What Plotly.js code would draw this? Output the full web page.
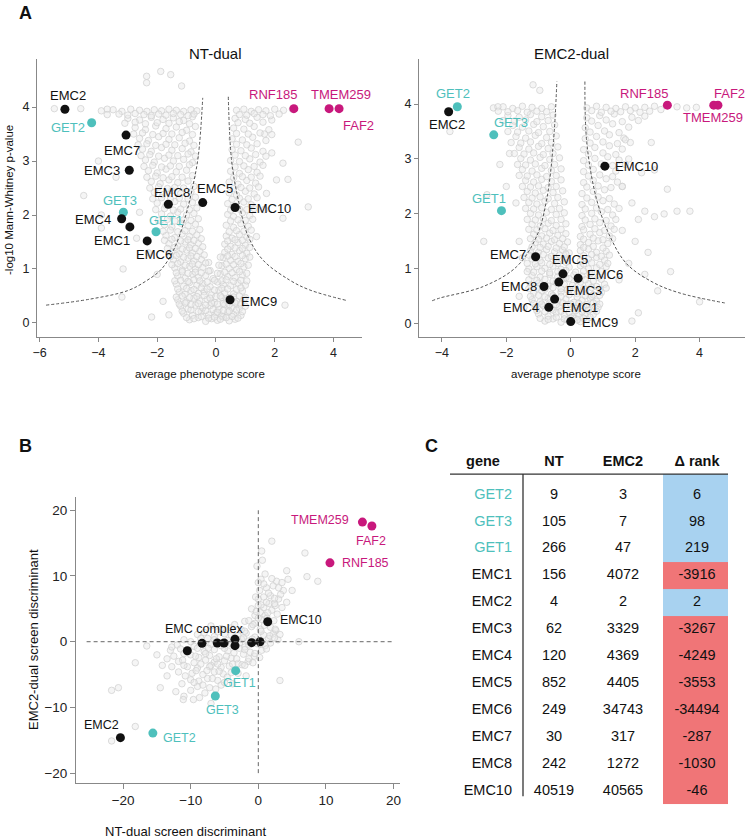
<!DOCTYPE html>
<html><head><meta charset="utf-8">
<script src="https://cdn.plot.ly/plotly-3.0.1.min.js"></script>
<style>html,body{margin:0;padding:0;background:#fff}#chart{width:746px;height:839px}</style>
</head><body><div id="chart"></div>
<script>
// ---------- Panel A : NT-dual volcano ----------
const ntGenes = ['EMC2','GET2','EMC7','EMC3','RNF185','TMEM259','FAF2','EMC8','EMC5','EMC10','GET3','EMC4','EMC1','GET1','EMC6','EMC9'];
const ntX = [-5.14,-4.23,-3.06,-2.95,2.65,3.85,4.19,-1.62,-0.45,0.65,-3.15,-3.21,-2.93,-2.04,-2.34,0.48];
const ntY = [3.96,3.71,3.48,2.83,3.97,3.97,3.97,2.20,2.23,2.14,2.05,1.93,1.78,1.69,1.52,0.43];
const ntBgX = [-0.9,-0.6,-0.35,-0.15,0.05,0.25,0.45,0.65,
 -1.1,-0.8,-0.5,-0.25,0.0,0.2,0.4,0.6,0.85,
 -1.2,-0.95,-0.7,-0.45,-0.2,0.1,0.3,0.55,0.8,1.0,
 -1.3,-1.0,-0.75,-0.55,-0.3,-0.05,0.2,0.35,0.7,0.95,
 -1.25,-1.05,-0.85,-0.6,-0.4,-0.15,0.1,0.3,0.6,0.9,
 -1.35,-1.1,-0.9,-0.65,-0.45,-0.2,0.05,0.25,0.5,0.75,1.0,
 -1.3,-1.05,-0.8,-0.6,-0.35,-0.1,0.15,0.4,0.65,0.9,
 -1.4,-1.15,-0.9,-0.7,-0.45,-0.2,0.2,0.45,0.7,0.95,
 -1.45,-1.2,-0.95,-0.75,-0.5,-0.25,0.25,0.5,0.75,1.0,
 -1.5,-1.25,-1.0,-0.8,-0.55,0.3,0.55,0.8,1.05,
 -1.6,-1.3,-1.05,-0.85,-0.6,0.3,0.5,0.75,1.0,
 -1.7,-1.4,-1.15,-0.9,-0.65,0.35,0.55,0.8,1.05,
 -1.75,-1.5,-1.2,-0.95,-0.7,0.35,0.6,0.85,1.1,
 -1.85,-1.55,-1.3,-1.0,-0.75,0.4,0.6,0.9,1.15,
 -2.0,-1.7,-1.4,-1.1,-0.8,0.4,0.65,0.95,1.2,
 -2.1,-1.8,-1.5,-1.2,-0.85,0.45,0.7,1.0,1.3,
 -2.2,-1.9,-1.6,-1.3,-0.95,0.45,0.75,1.05,1.35,
 -2.3,-2.0,-1.7,-1.35,-1.0,0.5,0.8,1.1,1.4,
 -2.4,-2.1,-1.75,-1.45,-1.1,-0.8,0.5,0.8,1.15,1.5,
 -2.5,-2.2,-1.85,-1.5,-1.15,-0.85,0.55,0.85,1.2,1.6,
 -2.6,-2.3,-1.95,-1.6,-1.25,-0.9,0.55,0.9,1.25,1.7,
 -2.75,-2.4,-2.05,-1.7,-1.35,-1.0,-0.7,0.6,0.95,1.3,1.8,
 -3.0,-2.6,-2.2,-1.8,-1.45,-1.1,-0.8,0.65,1.0,1.4,1.9,
 -3.9,-3.5,-3.2,-2.9,-2.6,-2.35,-2.1,-1.85,-1.6,-1.35,-1.1,-0.85,-0.65,0.7,0.95,1.2,1.45,1.7,2.0,2.3,
 -5.5,-4.6,-3.7,2.6,
 -2.36,-1.88,-1.54,-2.36,-1.17,
 -4.5,-3.9,-3.16,-3.2,-2.19,-2.7,-3.9,-2.6,-2.3,-2.0,-1.8,-1.6,2.28,2.45,3.14,2.28,2.35,1.72,1.65,1.38,2.06,2.8,1.9,1.65,-4.0,-3.4];
const ntBgY = [0.06,0.10,0.03,0.08,0.05,0.11,0.04,0.07,
 0.18,0.14,0.21,0.15,0.19,0.13,0.2,0.16,0.14,
 0.31,0.26,0.33,0.28,0.32,0.25,0.34,0.29,0.27,0.31,
 0.43,0.39,0.46,0.41,0.44,0.38,0.47,0.42,0.4,0.45,
 0.57,0.53,0.6,0.55,0.58,0.52,0.61,0.56,0.54,0.59,
 0.72,0.68,0.75,0.7,0.73,0.67,0.76,0.71,0.69,0.74,0.7,
 0.87,0.83,0.9,0.85,0.88,0.82,0.91,0.86,0.84,0.89,
 1.02,0.98,1.05,1.0,1.03,0.97,1.06,1.01,0.99,1.04,
 1.17,1.13,1.2,1.15,1.18,1.12,1.21,1.16,1.14,1.19,
 1.32,1.28,1.35,1.3,1.33,1.31,1.27,1.34,1.29,
 1.47,1.43,1.5,1.45,1.48,1.46,1.42,1.49,1.44,
 1.62,1.58,1.65,1.6,1.63,1.61,1.57,1.64,1.59,
 1.82,1.78,1.85,1.8,1.83,1.81,1.77,1.84,1.79,
 2.02,1.98,2.05,2.0,2.03,2.01,1.97,2.04,1.99,
 2.22,2.18,2.25,2.2,2.23,2.21,2.17,2.24,2.19,
 2.42,2.38,2.45,2.4,2.43,2.41,2.37,2.44,2.39,
 2.62,2.58,2.65,2.6,2.63,2.61,2.57,2.64,2.59,
 2.82,2.78,2.85,2.8,2.83,2.81,2.77,2.84,2.79,
 3.02,2.98,3.05,3.0,3.03,2.97,3.01,2.99,3.04,2.98,
 3.22,3.18,3.25,3.2,3.23,3.17,3.21,3.19,3.24,3.18,
 3.42,3.38,3.45,3.4,3.43,3.37,3.41,3.39,3.44,3.38,
 3.62,3.58,3.65,3.6,3.63,3.57,3.64,3.61,3.59,3.64,3.58,
 3.79,3.76,3.81,3.77,3.8,3.75,3.82,3.79,3.77,3.81,3.76,
 3.93,3.95,3.92,3.96,3.94,3.92,3.95,3.93,3.96,3.94,3.92,3.95,3.93,3.94,3.96,3.92,3.95,3.93,3.96,3.94,
 3.97,3.97,3.96,3.96,
 4.57,4.66,4.6,4.45,4.39,
 2.36,2.0,1.0,0.48,0.11,1.57,1.76,2.05,1.3,0.9,0.4,0.15,2.96,2.66,2.15,1.94,0.33,2.4,2.1,1.6,2.65,3.35,3.15,3.5,3.0,2.7];
// additional background genes (x, y) read from the denser parts of the cloud
const ntBgMore = [
 [-1.0,0.10],[-0.75,0.08],[-0.5,0.12],[-0.25,0.09],[-0.05,0.11],[0.15,0.07],[0.35,0.10],[0.55,0.12],[0.75,0.09],
 [-1.15,0.22],[-0.85,0.24],[-0.6,0.21],[-0.35,0.23],[-0.1,0.25],[0.05,0.20],[0.25,0.23],[0.45,0.22],[0.7,0.24],[0.9,0.21],
 [-1.25,0.35],[-1.05,0.37],[-0.85,0.34],[-0.6,0.36],[-0.35,0.33],[-0.15,0.37],[0.05,0.35],[0.25,0.36],[0.45,0.34],[0.65,0.37],[0.85,0.35],
 [-1.35,0.48],[-1.15,0.50],[-0.9,0.47],[-0.65,0.49],[-0.4,0.51],[-0.2,0.46],[0.0,0.49],[0.15,0.50],[0.45,0.47],[0.6,0.48],[0.8,0.50],[1.0,0.47],
 [-1.3,0.63],[-1.0,0.64],[-0.75,0.62],[-0.5,0.65],[-0.3,0.63],[-0.05,0.61],[0.2,0.64],[0.4,0.63],[0.7,0.62],[0.85,0.65],
 [-1.4,0.78],[-1.2,0.79],[-0.95,0.77],[-0.75,0.80],[-0.55,0.78],[-0.3,0.76],[-0.05,0.79],[0.2,0.78],[0.35,0.80],[0.6,0.77],[0.85,0.79],[1.05,0.78],
 [-1.35,0.93],[-1.15,0.95],[-0.95,0.92],[-0.7,0.94],[-0.5,0.93],[-0.25,0.96],[0.05,0.92],[0.3,0.94],[0.55,0.93],[0.8,0.95],[1.05,0.92],
 [-1.5,1.08],[-1.3,1.10],[-1.05,1.07],[-0.8,1.09],[-0.6,1.08],[-0.35,1.11],[0.1,1.07],[0.35,1.09],[0.6,1.08],[0.85,1.10],[1.1,1.07],
 [-1.55,1.23],[-1.35,1.25],[-1.1,1.22],[-0.85,1.24],[-0.65,1.23],[-0.4,1.26],[0.15,1.22],[0.4,1.24],[0.65,1.23],[0.9,1.25],[1.15,1.22],
 [-1.65,1.38],[-1.4,1.40],[-1.15,1.37],[-0.9,1.39],[-0.7,1.38],[-0.45,1.41],[0.4,1.37],[0.65,1.39],[0.9,1.38],[1.15,1.40],
 [-1.75,1.53],[-1.5,1.55],[-1.2,1.52],[-0.95,1.54],[-0.75,1.53],[-0.5,1.56],[0.4,1.52],[0.65,1.54],[0.9,1.53],[1.15,1.55],
 [-1.8,1.70],[-1.55,1.72],[-1.3,1.69],[-1.05,1.71],[-0.8,1.70],[-0.55,1.73],[0.45,1.69],[0.7,1.71],[0.95,1.70],[1.2,1.72],
 [-1.95,1.90],[-1.65,1.92],[-1.4,1.89],[-1.1,1.91],[-0.85,1.90],[-0.6,1.93],[0.5,1.89],[0.75,1.91],[1.0,1.90],[1.25,1.92],
 [-2.05,2.10],[-1.75,2.12],[-1.45,2.09],[-1.2,2.11],[-0.9,2.10],[-0.65,2.13],[0.5,2.09],[0.8,2.11],[1.05,2.10],[1.3,2.12],
 [-2.15,2.30],[-1.85,2.32],[-1.55,2.29],[-1.25,2.31],[-0.95,2.30],[-0.7,2.33],[0.55,2.29],[0.8,2.31],[1.1,2.30],[1.4,2.32],
 [-2.25,2.50],[-1.95,2.52],[-1.65,2.49],[-1.4,2.51],[-1.1,2.50],[-0.75,2.53],[0.6,2.49],[0.85,2.51],[1.15,2.50],[1.45,2.52],
 [-2.35,2.70],[-2.05,2.72],[-1.8,2.69],[-1.5,2.71],[-1.15,2.70],[-0.8,2.73],[0.6,2.69],[0.9,2.71],[1.2,2.70],[1.5,2.72],
 [-2.45,2.90],[-2.15,2.92],[-1.85,2.89],[-1.55,2.91],[-1.25,2.90],[-0.9,2.93],[0.65,2.89],[0.95,2.91],[1.3,2.90],[1.6,2.92],
 [-2.55,3.10],[-2.25,3.12],[-1.95,3.09],[-1.6,3.11],[-1.3,3.10],[-0.95,3.13],[-0.7,3.09],[0.65,3.11],[1.0,3.10],[1.35,3.12],[1.7,3.09],
 [-2.65,3.30],[-2.35,3.32],[-2.05,3.29],[-1.7,3.31],[-1.4,3.30],[-1.05,3.33],[-0.75,3.29],[0.7,3.31],[1.05,3.30],[1.4,3.32],
 [-2.8,3.50],[-2.5,3.52],[-2.15,3.49],[-1.8,3.51],[-1.5,3.50],[-1.15,3.53],[-0.8,3.49],[0.7,3.51],[1.1,3.50],[1.5,3.52],[1.9,3.49],
 [-3.1,3.70],[-2.75,3.72],[-2.4,3.69],[-2.0,3.71],[-1.6,3.70],[-1.25,3.73],[-0.9,3.69],[0.75,3.71],[1.15,3.70],[1.6,3.72],
 [-3.7,3.86],[-3.3,3.87],[-3.0,3.85],[-2.75,3.88],[-2.45,3.86],[-2.2,3.84],[-1.95,3.87],[-1.7,3.85],[-1.45,3.88],[-1.2,3.86],
 [-0.95,3.84],[-0.75,3.87],[0.8,3.86],[1.05,3.85],[1.3,3.88],[1.6,3.86],[1.85,3.84],[2.15,3.87]];
const ntCurveLX = [-5.78,-4.3,-3.0,-2.4,-1.85,-1.4,-1.05,-0.8,-0.6,-0.45];
const ntCurveLY = [0.33,0.44,0.6,0.77,1.0,1.4,1.95,2.5,3.1,4.17];
const ntCurveRX = [0.42,0.53,0.76,1.1,1.61,2.52,3.2,4.42];
const ntCurveRY = [4.19,3.02,2.28,1.6,1.16,0.79,0.61,0.42];

// ---------- Panel A : EMC2-dual volcano ----------
const e2Genes = ['GET2','EMC2','GET3','RNF185','TMEM259','FAF2','EMC10','GET1','EMC7','EMC5','EMC6','EMC3','EMC8','EMC1','EMC4','EMC9'];
const e2X = [-3.52,-3.79,-2.39,3.0,4.44,4.57,1.06,-2.15,-1.09,-0.24,0.23,-0.37,-0.83,-0.50,-0.68,0.0];
const e2Y = [3.95,3.86,3.44,3.98,3.98,3.98,2.87,2.06,1.22,0.91,0.83,0.76,0.68,0.45,0.30,0.04];
const e2BgX = [-0.8,-0.55,-0.3,-0.1,0.1,0.3,0.5,
 -1.0,-0.7,-0.45,-0.2,0.05,0.25,0.45,0.7,
 -1.1,-0.85,-0.6,-0.35,-0.1,0.15,0.4,0.6,0.85,
 -1.2,-0.95,-0.7,-0.4,-0.15,0.1,0.35,0.6,0.8,
 -1.15,-0.9,-0.6,-0.3,-0.05,0.2,0.45,0.7,0.95,
 -1.25,-1.0,-0.7,-0.45,-0.2,0.05,0.3,0.55,0.8,1.05,
 -1.2,-0.95,-0.65,-0.4,-0.15,0.1,0.35,0.6,0.85,
 -1.3,-1.05,-0.8,-0.55,-0.3,-0.05,0.3,0.55,0.8,1.1,
 -1.2,-0.95,-0.7,-0.45,-0.2,0.3,0.55,0.8,1.05,
 -1.25,-1.0,-0.75,-0.5,-0.25,-0.05,0.3,0.55,0.8,1.1,
 -1.1,-0.85,-0.6,-0.35,-0.1,0.3,0.55,0.85,1.15,
 -1.15,-0.9,-0.65,-0.4,-0.15,0.3,0.6,0.9,1.2,
 -1.2,-0.95,-0.7,-0.45,-0.15,0.35,0.6,0.9,1.25,
 -1.25,-1.0,-0.75,-0.45,-0.2,0.35,0.65,0.95,1.3,
 -1.3,-1.05,-0.8,-0.5,-0.2,0.35,0.65,1.0,1.35,
 -1.35,-1.1,-0.85,-0.55,-0.25,0.35,0.7,1.05,
 -1.4,-1.15,-0.9,-0.6,-0.3,0.4,0.7,1.1,1.45,
 -1.5,-1.2,-0.9,-0.6,-0.3,0.4,0.7,1.4,
 -1.55,-1.25,-0.95,-0.65,-0.35,0.4,0.75,1.15,1.5,
 -1.6,-1.3,-1.0,-0.7,-0.4,0.4,0.75,1.2,1.6,
 -1.7,-1.4,-1.1,-0.75,-0.45,0.45,0.8,1.2,1.65,
 -1.8,-1.5,-1.15,-0.85,-0.5,0.45,0.85,1.3,1.8,
 -1.95,-1.6,-1.25,-0.9,-0.55,0.5,0.9,1.35,1.9,2.3,
 -2.4,-2.1,-1.8,-1.5,-1.2,-0.9,-0.6,0.5,0.8,1.1,1.4,1.7,2.0,2.3,2.6,3.3,3.6,3.9,
 -1.17,-0.96,-2.26,-3.75,
 1.6,1.9,2.1,2.3,2.6,2.9,3.3,3.7,2.0,2.4,1.8,2.7,3.1,3.0,1.8,2.2,2.5,1.6,2.1,1.9,2.6,1.7,4.0,1.5,2.3,
 -2.7,-2.0,-1.7,-1.6,-1.5,-1.6,-2.2,-1.9,-2.6,-1.45];
const e2BgY = [0.05,0.09,0.03,0.07,0.1,0.04,0.08,
 0.18,0.14,0.2,0.16,0.13,0.19,0.15,0.17,
 0.3,0.33,0.27,0.31,0.35,0.28,0.32,0.26,0.3,
 0.44,0.4,0.46,0.42,0.45,0.39,0.43,0.47,0.41,
 0.56,0.6,0.54,0.58,0.61,0.55,0.59,0.53,0.57,
 0.71,0.74,0.69,0.75,0.72,0.7,0.76,0.73,0.68,0.72,
 0.88,0.85,0.9,0.86,0.84,0.89,0.87,0.91,0.85,
 1.0,1.04,1.01,1.05,0.99,1.03,1.06,1.0,1.02,1.04,
 1.18,1.15,1.2,1.16,1.19,1.14,1.18,1.21,1.16,
 1.33,1.3,1.35,1.31,1.34,1.29,1.33,1.36,1.3,1.32,
 1.48,1.45,1.5,1.46,1.49,1.44,1.48,1.51,1.46,
 1.63,1.6,1.65,1.61,1.64,1.59,1.63,1.66,1.6,
 1.81,1.78,1.83,1.79,1.82,1.77,1.81,1.84,1.78,
 2.01,1.98,2.03,1.99,2.02,1.97,2.01,2.04,1.98,
 2.21,2.18,2.23,2.19,2.22,2.17,2.21,2.24,2.18,
 2.41,2.38,2.43,2.39,2.42,2.37,2.41,2.44,
 2.61,2.58,2.63,2.59,2.62,2.57,2.61,2.64,2.58,
 2.81,2.78,2.83,2.79,2.82,2.77,2.81,2.78,
 3.01,2.98,3.03,2.99,3.02,2.97,3.01,3.04,2.98,
 3.21,3.18,3.23,3.19,3.22,3.17,3.21,3.24,3.18,
 3.41,3.38,3.43,3.39,3.42,3.37,3.41,3.44,3.38,
 3.61,3.58,3.63,3.59,3.62,3.57,3.61,3.64,3.58,
 3.79,3.76,3.81,3.77,3.8,3.75,3.79,3.82,3.76,3.78,
 3.93,3.95,3.92,3.96,3.94,3.92,3.95,3.93,3.96,3.94,3.92,3.95,3.93,3.94,3.96,3.95,3.93,3.94,
 4.35,4.25,3.95,3.5,
 2.5,2.2,1.9,2.05,1.95,2.0,2.05,2.05,1.5,1.3,1.1,0.6,0.95,2.45,3.0,2.75,3.3,1.7,0.2,0.05,2.8,3.35,0.4,0.8,0.9,
 1.5,2.5,2.2,1.5,1.2,0.5,2.9,3.1,2.35,0.3];
const e2BgMore = [
 [-0.95,0.10],[-0.7,0.08],[-0.45,0.12],[-0.2,0.09],[0.0,0.11],[0.2,0.07],[0.4,0.10],[0.6,0.12],
 [-1.05,0.24],[-0.8,0.22],[-0.55,0.25],[-0.3,0.23],[-0.05,0.21],[0.15,0.24],[0.35,0.22],[0.55,0.25],[0.8,0.23],
 [-1.15,0.37],[-0.9,0.36],[-0.65,0.38],[-0.45,0.35],[-0.25,0.38],[0.0,0.36],[0.25,0.37],[0.5,0.35],[0.7,0.38],[0.9,0.36],
 [-1.25,0.50],[-1.0,0.52],[-0.8,0.49],[-0.55,0.51],[-0.3,0.50],[-0.05,0.53],[0.2,0.49],[0.45,0.51],[0.65,0.50],[0.9,0.52],
 [-1.3,0.64],[-1.05,0.65],[-0.8,0.63],[-0.55,0.66],[-0.3,0.64],[-0.1,0.62],[0.15,0.65],[0.4,0.64],[0.65,0.66],[0.9,0.63],[1.1,0.65],
 [-1.3,0.80],[-1.05,0.79],[-0.8,0.81],[-0.55,0.78],[-0.3,0.80],[-0.05,0.82],[0.2,0.79],[0.45,0.80],[0.7,0.78],[0.95,0.81],
 [-1.35,0.95],[-1.15,0.94],[-0.9,0.96],[-0.65,0.93],[-0.4,0.95],[-0.15,0.97],[0.15,0.94],[0.4,0.96],[0.65,0.93],[0.95,0.95],
 [-1.35,1.10],[-1.1,1.09],[-0.9,1.11],[-0.65,1.08],[-0.4,1.10],[-0.15,1.12],[0.4,1.09],[0.65,1.11],[0.9,1.08],[1.15,1.10],
 [-1.3,1.25],[-1.1,1.24],[-0.85,1.26],[-0.6,1.23],[-0.35,1.25],[-0.15,1.27],[0.4,1.24],[0.65,1.26],[0.95,1.23],[1.2,1.25],
 [-1.2,1.40],[-0.95,1.39],[-0.7,1.41],[-0.45,1.38],[-0.2,1.40],[0.4,1.39],[0.7,1.41],[1.0,1.38],
 [-1.25,1.55],[-1.0,1.54],[-0.75,1.56],[-0.5,1.53],[-0.25,1.55],[0.4,1.54],[0.7,1.56],[1.0,1.53],[1.3,1.55],
 [-1.3,1.72],[-1.05,1.71],[-0.8,1.73],[-0.55,1.70],[-0.3,1.72],[0.4,1.71],[0.75,1.73],[1.05,1.70],[1.35,1.72],
 [-1.35,1.90],[-1.1,1.89],[-0.85,1.91],[-0.6,1.88],[-0.3,1.90],[0.45,1.89],[0.75,1.91],[1.1,1.88],[1.4,1.90],
 [-1.4,2.10],[-1.15,2.09],[-0.9,2.11],[-0.6,2.08],[-0.35,2.10],[0.45,2.09],[0.8,2.11],[1.15,2.08],[1.5,2.10],
 [-1.45,2.30],[-1.2,2.29],[-0.95,2.31],[-0.7,2.28],[-0.4,2.30],[0.5,2.29],[0.85,2.31],[1.2,2.28],
 [-1.5,2.50],[-1.25,2.49],[-1.0,2.51],[-0.7,2.48],[-0.45,2.50],[0.5,2.49],[0.85,2.51],[1.25,2.48],[1.6,2.50],
 [-1.6,2.70],[-1.35,2.69],[-1.05,2.71],[-0.75,2.68],[-0.45,2.70],[0.55,2.69],[0.9,2.71],[1.3,2.68],
 [-1.65,2.90],[-1.4,2.89],[-1.1,2.91],[-0.8,2.88],[-0.5,2.90],[0.55,2.89],[0.95,2.91],[1.3,2.88],[1.7,2.90],
 [-1.75,3.10],[-1.45,3.09],[-1.15,3.11],[-0.85,3.08],[-0.55,3.10],[0.55,3.09],[1.0,3.11],[1.4,3.08],
 [-1.85,3.30],[-1.55,3.29],[-1.25,3.31],[-0.9,3.28],[-0.6,3.30],[0.6,3.29],[1.0,3.31],[1.45,3.28],[1.85,3.30],
 [-1.95,3.50],[-1.65,3.49],[-1.3,3.51],[-1.0,3.48],[-0.65,3.50],[0.6,3.49],[1.05,3.51],[1.5,3.48],
 [-2.1,3.70],[-1.75,3.69],[-1.4,3.71],[-1.05,3.68],[-0.7,3.70],[0.65,3.69],[1.1,3.71],[1.6,3.68],[2.1,3.70],
 [-2.25,3.87],[-1.95,3.86],[-1.65,3.88],[-1.35,3.85],[-1.05,3.87],[-0.75,3.86],[0.65,3.88],[0.95,3.85],[1.25,3.87],
 [1.55,3.86],[1.85,3.88],[2.15,3.85],[2.45,3.87],[2.8,3.9]];
const e2CurveLX = [-4.3,-4.06,-2.71,-1.68,-1.06,-0.75,-0.54,-0.43];
const e2CurveLY = [0.42,0.47,0.68,1.04,1.59,2.25,3.29,4.41];
const e2CurveRX = [0.44,0.5,0.81,1.22,1.74,2.57,3.39,4.78];
const e2CurveRY = [4.41,3.29,2.25,1.59,1.09,0.75,0.56,0.38];

// ---------- Panel B : discriminant scatter ----------
const discGenes = ['TMEM259','FAF2','RNF185','EMC10','GET1','GET3','GET2','EMC2'];
const discNT = [15.4,16.8,10.6,1.39,-3.35,-6.36,-15.6,-20.4];
const discEMC2 = [18.2,17.6,12.0,3.04,-4.41,-8.26,-13.9,-14.6];
const emcComplexNT = [-10.5,-8.33,-6.07,-5.07,-3.45,-3.45,-0.98,0.25];
const emcComplexEMC2 = [-1.37,-0.25,-0.2,-0.2,0.37,-0.6,-0.15,0.0];
const discBgX = [-2,-0.5,0.5,1.5,
 -4,-2.5,-1,0.3,1.8,2.6,
 -9,-6.5,-5,-3,-1.8,-0.5,0.8,2.2,
 -11,-7.5,-4.5,-2.5,-1.5,1.5,2.9,
 -12,-9.5,-7,-5.5,-2,-0.2,1.0,
 -13,-11.5,-8,-6.5,-4.5,-2.8,-1.2,0.5,
 -12.5,-10,-8.8,-7.2,-5.8,-4,-2.2,-0.6,
 -11.8,-9.5,-7.8,-6.5,-5,-3,-1.5,
 -10.5,-9,-7,-5.5,-4.3,-2.4,
 -9.8,-8.2,-6.5,-5.2,-4,
 -10,-8.8,-7.5,-6.0,
 -9,-7.2,-5.5,
 -8.7,-11,
 -0.5,0.3,1,2,2.8,-1,0,0.8,1.6,2.5,3.5,0,0.8,1.8,3,4.2,0.2,1.2,2.2,3.7,0.4,1.0,2.7,3.5,4.2,4.4,7.2,8.8,0.6,0.5,2.0,6.9,-0.2,
 -21.7,-20.7,-18.2,-16.5,-14.5,-11.1,-18.2,-21.7,3.2,6.0];
const discBgY = [3.1,2.8,3.4,2.9,
 2.1,1.8,2.3,1.9,2.2,1.7,
 1.1,0.8,1.2,0.9,1.3,0.7,1.0,1.2,
 0.3,0.5,0.2,0.4,0.1,0.5,0.3,
 -0.5,-0.7,-0.4,-0.6,-0.8,-0.3,-0.6,
 -1.3,-1.1,-1.5,-1.2,-1.4,-1.0,-1.6,-1.3,
 -2.2,-2.0,-2.4,-2.1,-2.3,-2.5,-1.9,-2.2,
 -3.0,-3.2,-2.8,-3.1,-2.9,-3.3,-3.0,
 -3.8,-4.0,-3.6,-3.9,-3.7,-3.5,
 -4.8,-5.0,-4.6,-4.9,-4.7,
 -5.8,-6.0,-5.6,-5.9,
 -6.8,-7.0,-6.6,
 -8.5,-8.3,
 4,4.5,4,4.8,4.2,5,5.5,5.2,5.8,5.5,5.2,6.5,6.8,7,6.5,6.0,7.8,8.2,8.5,7.8,9.5,10.3,9.2,9.0,10.8,9.5,9.9,9.2,12.4,13.8,15.3,13.5,11.5,
 -7.4,-7.0,-3.2,-0.65,-7.0,-8.8,-12.9,-15.1,-5.9,0];
const discBgMore = [
 [-7.0,2.4],[-5.5,2.0],[-3.5,2.6],[-2.0,1.6],[-0.8,2.6],[0.9,2.5],[1.3,3.6],[2.3,3.2],[0.0,3.6],[-1.4,3.2],
 [-8.0,1.4],[-6.0,1.5],[-4.0,1.0],[-3.5,0.6],[-2.2,0.6],[-0.9,0.4],[0.4,1.6],[1.7,0.9],[2.5,1.9],[3.2,1.1],
 [-10.0,0.0],[-8.5,0.5],[-6.5,0.3],[-4.0,-0.3],[-2.8,-0.2],[-1.4,-0.5],[0.3,-0.4],[1.8,-0.2],[2.4,0.6],
 [-12.8,-0.8],[-11.0,-1.8],[-9.0,-1.0],[-7.4,-1.0],[-5.0,-1.0],[-3.6,-1.7],[-2.0,-1.2],[-0.5,-1.8],[1.2,-1.1],
 [-13.5,-2.6],[-11.2,-2.8],[-9.3,-2.2],[-7.8,-1.8],[-6.2,-2.6],[-4.7,-2.2],[-3.2,-2.6],[-1.4,-2.6],[0.2,-2.4],
 [-12.8,-3.8],[-11.0,-3.6],[-8.5,-3.4],[-7.2,-3.8],[-6.0,-3.4],[-3.8,-3.4],[-2.0,-3.6],[-0.8,-3.2],
 [-11.8,-4.6],[-10.8,-5.2],[-9.2,-4.4],[-7.6,-4.4],[-5.8,-4.5],[-4.6,-5.4],[-3.0,-4.8],[-1.8,-5.2],
 [-11.3,-6.4],[-9.5,-6.2],[-8.2,-6.6],[-6.8,-5.6],[-5.0,-6.2],[-3.8,-6.4],[-12.2,-7.6],[-10.0,-7.4],[-7.9,-7.8],[-6.3,-7.2],
 [-13.5,-5.2],[-14.2,-3.6],[-15.0,-2.0],[-9.6,-8.8],[-7.0,-9.4],
 [-0.3,4.6],[1.4,4.4],[2.4,5.8],[1.2,6.0],[0.4,5.6],[-0.4,6.8],[2.4,6.6],[3.3,7.2],[1.5,7.4],[0.8,8.8],[2.0,9.6],[5.0,7.8],[3.0,8.2],[0.0,9.0]];

// ---------- Panel C : rank table ----------
const tableHeader = ['gene','NT','EMC2','Δ rank'];
const tableGenes = ['GET2','GET3','GET1','EMC1','EMC2','EMC3','EMC4','EMC5','EMC6','EMC7','EMC8','EMC10'];
const rankNT = [9,105,266,156,4,62,120,852,249,30,242,40519];
const rankEMC2 = [3,7,47,4072,2,3329,4369,4405,34743,317,1272,40565];
const deltaRank = [6,98,219,-3916,2,-3267,-4249,-3553,-34494,-287,-1030,-46];

// ---------- styles ----------
const FONT = '"Liberation Sans", Arial, Helvetica, sans-serif';
const TEAL = '#4ec0bc', MAGENTA = '#c8187c', BLACK = '#111111';
const BLUE = '#a8d2f0', RED = '#f07577';
const colorOf = g => g.startsWith('GET') ? TEAL : (['RNF185','TMEM259','FAF2'].includes(g) ? MAGENTA : BLACK);
const bgMarker = {size: 6.5, color: 'rgba(232,232,232,0.45)', line: {color: '#d0d0d0', width: 0.75}};
const dashLine = {color: '#555', width: 1, dash: '3px,2px', shape: 'spline'};

const ntLabelPos = {EMC2:[3,14,'center'],GET2:[-5,-5,'right'],EMC7:[-4,-15,'center'],EMC3:[-7,0,'right'],
 RNF185:[-21,14,'center'],TMEM259:[12,14,'center'],FAF2:[19,-17,'center'],EMC8:[4,12,'center'],
 EMC5:[12,14,'center'],EMC10:[11,-1,'left'],GET3:[-3,12,'center'],EMC4:[-9,-1,'right'],
 EMC1:[-18,-14,'center'],GET1:[10,11,'center'],EMC6:[7,-14,'center'],EMC9:[9,-2,'left']};
const e2LabelPos = {GET2:[-4,13,'center'],EMC2:[-2,-13,'center'],GET3:[17,12,'center'],RNF185:[-23,12,'center'],
 TMEM259:[-1,-12,'center'],FAF2:[12,12,'center'],EMC10:[8,0,'left'],GET1:[-12,12,'center'],
 EMC7:[-8,2,'right'],EMC5:[7,14,'center'],EMC6:[7,4,'left'],EMC3:[5,-8,'left'],EMC8:[-5,0,'right'],
 EMC1:[5,-8,'left'],EMC4:[-8,0,'right'],EMC9:[9,-1,'left']};
const discLabelPos = {TMEM259:[-11,2,'right'],FAF2:[-1,-15,'center'],RNF185:[10,0,'left'],EMC10:[10,2,'left'],
 GET1:[4,-12,'center'],GET3:[7,-14,'center'],GET2:[8,-5,'left'],EMC2:[-19,13,'center']};

const traces = [];
const annotations = [];

function addPanel(bgX, bgY, more, genes, xs, ys, xa, ya, labelPos, fontSize, curves) {
  traces.push({type:'scatter', mode:'markers', x:bgX.concat(more.map(p => p[0])), y:bgY.concat(more.map(p => p[1])),
    xaxis:xa, yaxis:ya, marker:bgMarker, hoverinfo:'skip'});
  curves.forEach(c => traces.push({type:'scatter', mode:'lines', x:c[0], y:c[1], xaxis:xa, yaxis:ya, line:dashLine, hoverinfo:'skip'}));
  traces.push({type:'scatter', mode:'markers', x:xs, y:ys, xaxis:xa, yaxis:ya,
    marker:{size:9, color:genes.map(colorOf), line:{width:0}}, hoverinfo:'skip'});
  genes.forEach((g,i) => {
    const p = labelPos[g];
    annotations.push({x:xs[i], y:ys[i], xref:xa, yref:ya, text:g, showarrow:false,
      xshift:p[0], yshift:p[1], xanchor:p[2], yanchor:'middle',
      font:{family:FONT, size:fontSize, color:colorOf(g)}});
  });
}

addPanel(ntBgX, ntBgY, ntBgMore, ntGenes, ntX, ntY, 'x', 'y', ntLabelPos, 13,
  [[ntCurveLX, ntCurveLY],[ntCurveRX, ntCurveRY]]);
addPanel(e2BgX, e2BgY, e2BgMore, e2Genes, e2X, e2Y, 'x2', 'y2', e2LabelPos, 13,
  [[e2CurveLX, e2CurveLY],[e2CurveRX, e2CurveRY]]);
addPanel(discBgX, discBgY, discBgMore, discGenes, discNT, discEMC2, 'x3', 'y3', discLabelPos, 12.5, []);
traces.push({type:'scatter', mode:'markers', x:emcComplexNT, y:emcComplexEMC2, xaxis:'x3', yaxis:'y3',
  marker:{size:9, color:BLACK}, hoverinfo:'skip'});
annotations.push({x:-7.9, y:2.0, xref:'x3', yref:'y3', text:'EMC complex', showarrow:false,
  font:{family:FONT, size:12.5, color:BLACK}});

// table (axis x4/y4, rows indexed 0..n-1 top to bottom)
const rows = tableGenes.map((g,i) => i);
const colX = {gene:72, NT:114, EMC2:183, delta:257};
traces.push({type:'heatmap', xaxis:'x4', yaxis:'y4', x:[223,288],
  y:[-0.78].concat(rows.map(r => r + 0.5)),
  z:deltaRank.map(v => [v > 0 ? 1 : -1]), zmin:-1, zmax:1, showscale:false,
  colorscale:[[0,RED],[0.5,RED],[0.5,BLUE],[1,BLUE]], hoverinfo:'skip'});
traces.push({type:'scatter', mode:'text', xaxis:'x4', yaxis:'y4', x:rows.map(() => colX.gene), y:rows,
  text:tableGenes, textposition:'middle left', hoverinfo:'skip',
  textfont:{family:FONT, size:14.5, color:tableGenes.map(g => g.startsWith('GET') ? TEAL : BLACK)}});
[[rankNT, colX.NT],[rankEMC2, colX.EMC2],[deltaRank, colX.delta]].forEach(([vals, cx]) => {
  traces.push({type:'scatter', mode:'text', xaxis:'x4', yaxis:'y4', x:rows.map(() => cx), y:rows,
    text:vals.map(String), textposition:'middle center', hoverinfo:'skip',
    textfont:{family:FONT, size:14.5, color:BLACK}});
});
traces.push({type:'scatter', mode:'text', xaxis:'x4', yaxis:'y4', x:[43, colX.NT, colX.EMC2, colX.delta],
  y:[-1.23,-1.23,-1.23,-1.23], text:tableHeader.map(t => '<b>'+t+'</b>'), textposition:'middle center',
  hoverinfo:'skip', textfont:{family:FONT, size:14.5, color:BLACK}});

const shapes = [
  {type:'line', xref:'x3', yref:'y3', x0:-25.4, x1:20, y0:0, y1:0, line:{color:'#666', width:1, dash:'4px,3px'}},
  {type:'line', xref:'x3', yref:'y3', x0:0, x1:0, y0:-20, y1:20, line:{color:'#666', width:1, dash:'4px,3px'}},
  {type:'line', xref:'x4', yref:'y4', x0:10, x1:288, y0:-0.78, y1:-0.78, line:{color:'#333', width:1.3}},
  {type:'line', xref:'x4', yref:'y4', x0:83, x1:83, y0:-0.78, y1:11.2, line:{color:'#333', width:1.3}}
];

const pxX = p => p/746, pxY = p => 1 - p/839;
function paperText(text, x, y, size, opts) {
  annotations.push(Object.assign({text, x:pxX(x), y:pxY(y), xref:'paper', yref:'paper', showarrow:false,
    xanchor:'center', yanchor:'middle', font:{family:FONT, size, color:'#111'}}, opts || {}));
}
paperText('<b>A</b>', 25, 13, 18);
paperText('<b>B</b>', 25, 446, 18);
paperText('<b>C</b>', 431, 446, 18);
paperText('NT-dual', 215, 53, 15);
paperText('EMC2-dual', 571, 53, 15);
paperText('average phenotype score', 200, 374, 11.5);
paperText('average phenotype score', 576, 374, 11.5);
paperText('-log10 Mann-Whitney p-value', 9, 200, 11.5, {textangle:-90});
paperText('EMC2-dual screen discriminant', 33, 640, 13, {textangle:-90});
paperText('NT-dual screen discriminant', 186, 831, 13);

const axBase = {showgrid:false, zeroline:false, showline:true, linecolor:'#888', linewidth:1,
  ticks:'outside', ticklen:4, tickcolor:'#888', tickfont:{family:FONT, size:12.5, color:'#222'}};
const axB = Object.assign({}, axBase, {tickfont:{family:FONT, size:13.5, color:'#222'}, ticklen:5});
const hidden = {visible:false, showgrid:false, zeroline:false};

const layout = {
  width:746, height:839, margin:{l:0, r:0, t:0, b:0}, showlegend:false,
  paper_bgcolor:'#fff', plot_bgcolor:'rgba(0,0,0,0)', font:{family:FONT},
  xaxis: Object.assign({}, axBase, {domain:[pxX(37), pxX(362)], range:[-6.09,4.97], tickvals:[-6,-4,-2,0,2,4], anchor:'y'}),
  yaxis: Object.assign({}, axBase, {domain:[pxY(337), pxY(59)], range:[-0.26,4.89], tickvals:[0,1,2,3,4], anchor:'x'}),
  xaxis2: Object.assign({}, axBase, {domain:[pxX(419), pxX(745)], range:[-4.71,5.41], tickvals:[-4,-2,0,2,4], anchor:'y2'}),
  yaxis2: Object.assign({}, axBase, {domain:[pxY(337), pxY(59)], range:[-0.24,4.82], tickvals:[0,1,2,3,4], anchor:'x2'}),
  xaxis3: Object.assign({}, axB, {domain:[pxX(76), pxX(400)], range:[-26.97,20.96], tickvals:[-20,-10,0,10,20], anchor:'y3'}),
  yaxis3: Object.assign({}, axB, {domain:[pxY(783), pxY(497)], range:[-21.5,22.02], tickvals:[-20,-10,0,10,20], anchor:'x3'}),
  xaxis4: Object.assign({}, hidden, {domain:[pxX(440), pxX(740)], range:[0,300], anchor:'y4'}),
  yaxis4: Object.assign({}, hidden, {domain:[pxY(820), pxY(440)], range:[12.08,-2.045], anchor:'x4'}),
  shapes, annotations
};

Plotly.newPlot('chart', traces, layout, {staticPlot:true, displayModeBar:false});
</script>
</body></html>
